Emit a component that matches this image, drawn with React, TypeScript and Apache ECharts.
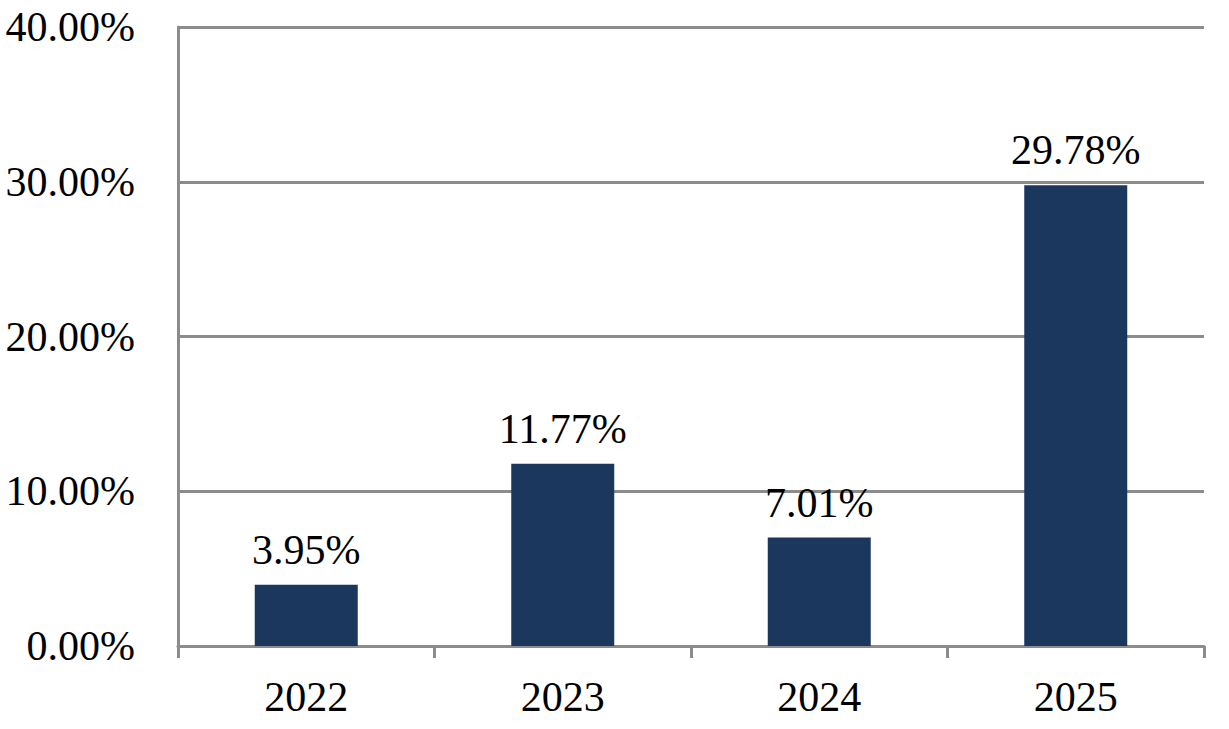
import React, { useEffect, useRef } from "react";
import * as echarts from "echarts";

const categories = ["2022", "2023", "2024", "2025"];
const values = [3.95, 11.77, 7.01, 29.78];
const yTicks = [0, 10, 20, 30, 40];

const FONT = "'Liberation Serif', 'Times New Roman', serif";
const GRAY = "#8c8c8c";

export default function App() {
  const ref = useRef<HTMLDivElement>(null);
  useEffect(() => {
    if (!ref.current) return;
    const chart = echarts.init(ref.current, undefined, { renderer: "svg" });
    chart.setOption({
      animation: false,
      backgroundColor: "#ffffff",
      grid: { left: 178, right: 25, top: 27, bottom: 83, containLabel: false },
      xAxis: {
        type: "category",
        data: categories,
        boundaryGap: true,
        axisLine: { show: true, lineStyle: { color: GRAY, width: 3 } },
        axisTick: { show: true, alignWithLabel: false, length: 12, lineStyle: { color: GRAY, width: 3 } },
        axisLabel: { color: "#000", fontFamily: FONT, fontSize: 42, margin: 30 },
        splitLine: { show: false },
      },
      yAxis: {
        type: "value",
        min: yTicks[0],
        max: yTicks[yTicks.length - 1],
        interval: 10,
        axisLine: { show: true, lineStyle: { color: GRAY, width: 3 } },
        axisTick: { show: false },
        axisLabel: {
          color: "#000",
          fontFamily: FONT,
          fontSize: 42,
          margin: 43,
          formatter: (v: number) => v.toFixed(2) + "%",
        },
        splitLine: { show: true, lineStyle: { color: GRAY, width: 3 } },
      },
      series: [
        {
          type: "bar",
          data: values,
          barWidth: 103,
          itemStyle: { color: "#1b375e" },
          label: {
            show: true,
            position: "top",
            distance: 14,
            color: "#000",
            fontFamily: FONT,
            fontSize: 42,
            formatter: (p: any) => p.value.toFixed(2) + "%",
          },
        },
      ],
    });
    return () => chart.dispose();
  }, []);
  return (
    <div
      ref={ref}
      style={{ position: "fixed", left: 0, top: 0, width: 1229, height: 729, background: "#fff" }}
    />
  );
}
